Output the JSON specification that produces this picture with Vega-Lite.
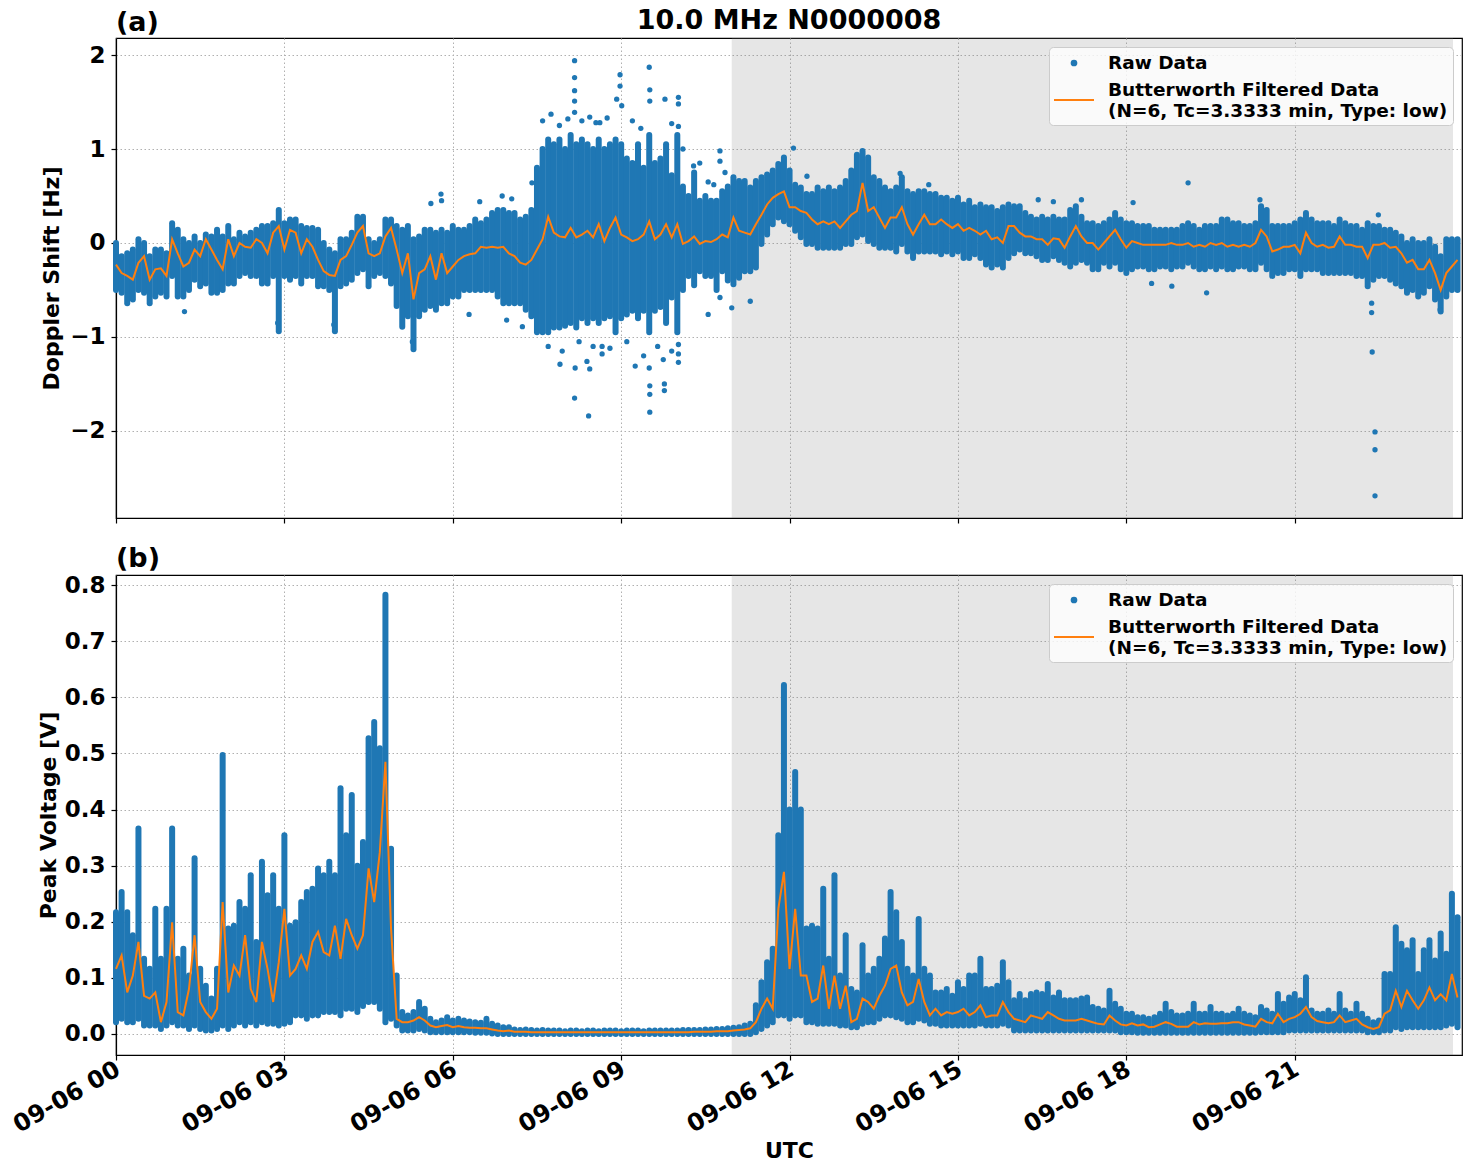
{
"$schema": "https://vega.github.io/schema/vega-lite/v6.json",
"padding": {"left": 8, "top": 7, "right": 5, "bottom": 5},
"title": {"text": "10.0 MHz N0000008", "anchor": "middle", "frame": "group", "fontSize": 27, "fontWeight": "bold", "font": "DejaVu Sans", "color": "#000000", "offset": -27},
"config": {
 "font": "DejaVu Sans",
 "view": {"stroke": "#000000", "strokeWidth": 1.2},
 "axis": {"labelFont": "DejaVu Sans", "labelFontSize": 23, "labelFontWeight": "bold", "labelColor": "#000000", "titleFont": "DejaVu Sans", "titleFontSize": 22, "titleFontWeight": "bold", "titleColor": "#000000", "domainColor": "#000000", "domainWidth": 1.2, "tickColor": "#000000", "tickSize": 5, "tickWidth": 1.2, "labelPadding": 6, "gridColor": "#b0b0b0", "gridDash": [1.5, 2.5], "gridWidth": 1, "grid": true},
 "title": {"font": "DejaVu Sans", "fontWeight": "bold", "fontSize": 27, "color": "#000000"},
 "legend": {"orient": "top-right", "offset": 9, "labelFont": "DejaVu Sans", "labelFontSize": 18.5, "labelFontWeight": "bold", "labelColor": "#000000", "labelLimit": 0,
   "symbolType": "M-2,0H2", "symbolSize": 400, "symbolStrokeWidth": 2, "symbolOffset": 9, "labelOffset": 23, "fillColor": "rgba(255,255,255,0.8)", "strokeColor": "#cccccc", "cornerRadius": 4, "padding": 5, "rowPadding": 8}
},
"datasets": {
 "shade": [{"s": 10.97, "e": 23.82}],
 "op": [
  {"t":1.22,"y":-0.73},{"t":2.88,"y":-0.85},{"t":3.88,"y":-0.87},{"t":5.28,"y":-1.05},{"t":5.61,"y":0.42},{"t":5.79,"y":0.52},{"t":5.8,"y":0.45},{"t":6.29,"y":-0.76},{"t":6.48,"y":0.44},{"t":6.88,"y":0.5},{"t":7.05,"y":0.47},{"t":6.96,"y":-0.82},{"t":7.24,"y":-0.89},{"t":7.41,"y":0.64},
  {"t":8.17,"y":1.94},{"t":8.17,"y":1.76},{"t":8.17,"y":1.62},{"t":8.17,"y":1.51},{"t":8.17,"y":1.39},{"t":8.98,"y":1.79},{"t":8.98,"y":1.67},{"t":9.5,"y":1.87},{"t":9.51,"y":1.63},{"t":9.51,"y":1.51},{"t":9.78,"y":1.53},{"t":10.02,"y":1.55},{"t":10.02,"y":1.48},{"t":8.92,"y":1.53},{"t":9.01,"y":1.46},{"t":8.44,"y":1.34},{"t":8.62,"y":1.28},{"t":10.02,"y":1.24},{"t":10.76,"y":0.98},{"t":10.76,"y":0.87},{"t":10.29,"y":0.82},
  {"t":7.6,"y":1.3},{"t":7.75,"y":1.37},{"t":7.9,"y":1.25},{"t":8.05,"y":1.32},{"t":8.3,"y":1.3},{"t":8.55,"y":1.28},{"t":8.75,"y":1.33},{"t":9.2,"y":1.3},{"t":9.35,"y":1.22},{"t":9.9,"y":1.27},{"t":10.1,"y":1.0},
  {"t":7.7,"y":-1.1},{"t":7.95,"y":-1.15},{"t":8.25,"y":-1.05},{"t":8.5,"y":-1.1},{"t":8.8,"y":-1.12},{"t":9.1,"y":-1.05},{"t":9.4,"y":-1.2},{"t":9.65,"y":-1.1},{"t":9.9,"y":-1.15},
  {"t":8.17,"y":-1.65},{"t":8.42,"y":-1.84},{"t":9.51,"y":-1.8},{"t":9.51,"y":-1.52},{"t":9.51,"y":-1.61},{"t":9.77,"y":-1.5},{"t":9.77,"y":-1.57},{"t":10.02,"y":-1.18},{"t":10.02,"y":-1.27},{"t":10.02,"y":-1.08},{"t":9.25,"y":-1.31},{"t":8.66,"y":-1.18},{"t":8.66,"y":-1.1},{"t":8.44,"y":-1.34},{"t":8.39,"y":-1.26},{"t":8.18,"y":-1.33},{"t":7.91,"y":-1.29},{"t":9.5,"y":-1.33},{"t":9.75,"y":-1.24},{"t":10.55,"y":-0.76},{"t":10.97,"y":-0.69},{"t":10.76,"y":-0.58},{"t":11.3,"y":-0.62},
  {"t":10.4,"y":0.85},{"t":10.55,"y":0.65},{"t":10.65,"y":0.62},{"t":10.85,"y":0.75},
  {"t":12.07,"y":1.01},{"t":13.97,"y":0.74},{"t":14.48,"y":0.62},{"t":12.31,"y":0.71},
  {"t":19.1,"y":0.64},{"t":22.38,"y":-1.16},{"t":22.43,"y":-2.01},{"t":22.43,"y":-2.2},{"t":22.43,"y":-2.69},{"t":16.43,"y":0.46},{"t":16.7,"y":0.44},{"t":17.2,"y":0.46},{"t":18.12,"y":0.43},{"t":19.43,"y":-0.53},{"t":18.81,"y":-0.46},{"t":18.45,"y":-0.43},{"t":22.37,"y":-0.74},{"t":22.37,"y":-0.64},{"t":20.38,"y":0.46},{"t":22.49,"y":0.3},{"t":23.59,"y":-0.71}
 ],
 "d": [
{"t":0.0,"dl":-0.50,"dh":0.00,"df":-0.23,"vl":0.021,"vh":0.217,"vf":0.116},
{"t":0.1,"dl":-0.53,"dh":-0.14,"df":-0.32,"vl":0.027,"vh":0.253,"vf":0.140},
{"t":0.2,"dl":-0.64,"dh":-0.11,"df":-0.35,"vl":0.021,"vh":0.217,"vf":0.074},
{"t":0.3,"dl":-0.60,"dh":-0.07,"df":-0.39,"vl":0.021,"vh":0.176,"vf":0.104},
{"t":0.4,"dl":-0.50,"dh":0.04,"df":-0.21,"vl":0.027,"vh":0.366,"vf":0.164},
{"t":0.5,"dl":-0.53,"dh":0.00,"df":-0.14,"vl":0.015,"vh":0.134,"vf":0.068},
{"t":0.6,"dl":-0.64,"dh":-0.14,"df":-0.39,"vl":0.015,"vh":0.116,"vf":0.063},
{"t":0.7,"dl":-0.57,"dh":-0.07,"df":-0.28,"vl":0.015,"vh":0.223,"vf":0.074},
{"t":0.8,"dl":-0.53,"dh":-0.07,"df":-0.27,"vl":0.009,"vh":0.134,"vf":0.021},
{"t":0.9,"dl":-0.57,"dh":-0.11,"df":-0.35,"vl":0.015,"vh":0.223,"vf":0.057},
{"t":1.0,"dl":-0.35,"dh":0.21,"df":0.04,"vl":0.021,"vh":0.366,"vf":0.199},
{"t":1.1,"dl":-0.57,"dh":0.14,"df":-0.11,"vl":0.015,"vh":0.134,"vf":0.039},
{"t":1.2,"dl":-0.57,"dh":0.04,"df":-0.25,"vl":0.015,"vh":0.152,"vf":0.033},
{"t":1.3,"dl":-0.50,"dh":0.00,"df":-0.21,"vl":0.009,"vh":0.104,"vf":0.080},
{"t":1.4,"dl":-0.39,"dh":0.07,"df":-0.07,"vl":0.015,"vh":0.313,"vf":0.176},
{"t":1.5,"dl":-0.46,"dh":0.00,"df":-0.14,"vl":0.009,"vh":0.116,"vf":0.057},
{"t":1.6,"dl":-0.43,"dh":0.09,"df":0.04,"vl":0.006,"vh":0.086,"vf":0.039},
{"t":1.7,"dl":-0.53,"dh":0.07,"df":-0.07,"vl":0.006,"vh":0.063,"vf":0.027},
{"t":1.8,"dl":-0.53,"dh":0.14,"df":-0.18,"vl":0.009,"vh":0.116,"vf":0.045},
{"t":1.9,"dl":-0.50,"dh":0.07,"df":-0.28,"vl":0.015,"vh":0.497,"vf":0.235},
{"t":2.0,"dl":-0.43,"dh":0.18,"df":0.04,"vl":0.009,"vh":0.188,"vf":0.074},
{"t":2.1,"dl":-0.43,"dh":0.04,"df":-0.14,"vl":0.015,"vh":0.193,"vf":0.122},
{"t":2.2,"dl":-0.35,"dh":0.11,"df":0.00,"vl":0.021,"vh":0.235,"vf":0.104},
{"t":2.3,"dl":-0.32,"dh":0.07,"df":-0.04,"vl":0.015,"vh":0.223,"vf":0.176},
{"t":2.4,"dl":-0.35,"dh":0.11,"df":-0.05,"vl":0.021,"vh":0.283,"vf":0.080},
{"t":2.5,"dl":-0.35,"dh":0.14,"df":0.04,"vl":0.015,"vh":0.164,"vf":0.057},
{"t":2.6,"dl":-0.43,"dh":0.18,"df":0.00,"vl":0.021,"vh":0.307,"vf":0.164},
{"t":2.7,"dl":-0.43,"dh":0.18,"df":-0.11,"vl":0.018,"vh":0.247,"vf":0.116},
{"t":2.8,"dl":-0.35,"dh":0.21,"df":0.11,"vl":0.018,"vh":0.283,"vf":0.057},
{"t":2.9,"dl":-0.94,"dh":0.35,"df":0.18,"vl":0.015,"vh":0.223,"vf":0.128},
{"t":3.0,"dl":-0.35,"dh":0.21,"df":-0.07,"vl":0.018,"vh":0.354,"vf":0.223},
{"t":3.1,"dl":-0.39,"dh":0.25,"df":0.14,"vl":0.021,"vh":0.193,"vf":0.104},
{"t":3.2,"dl":-0.35,"dh":0.25,"df":0.11,"vl":0.033,"vh":0.199,"vf":0.116},
{"t":3.3,"dl":-0.43,"dh":0.18,"df":-0.11,"vl":0.033,"vh":0.235,"vf":0.140},
{"t":3.4,"dl":-0.35,"dh":0.16,"df":0.04,"vl":0.027,"vh":0.253,"vf":0.116},
{"t":3.5,"dl":-0.35,"dh":0.16,"df":-0.04,"vl":0.033,"vh":0.259,"vf":0.164},
{"t":3.6,"dl":-0.46,"dh":0.14,"df":-0.18,"vl":0.033,"vh":0.295,"vf":0.182},
{"t":3.7,"dl":-0.46,"dh":0.00,"df":-0.30,"vl":0.039,"vh":0.283,"vf":0.146},
{"t":3.8,"dl":-0.50,"dh":-0.07,"df":-0.34,"vl":0.039,"vh":0.307,"vf":0.140},
{"t":3.9,"dl":-0.94,"dh":-0.11,"df":-0.35,"vl":0.039,"vh":0.283,"vf":0.193},
{"t":4.0,"dl":-0.46,"dh":0.04,"df":-0.18,"vl":0.033,"vh":0.438,"vf":0.134},
{"t":4.1,"dl":-0.43,"dh":0.04,"df":-0.14,"vl":0.045,"vh":0.354,"vf":0.205},
{"t":4.2,"dl":-0.39,"dh":0.11,"df":-0.02,"vl":0.045,"vh":0.426,"vf":0.176},
{"t":4.3,"dl":-0.32,"dh":0.28,"df":0.11,"vl":0.039,"vh":0.300,"vf":0.152},
{"t":4.4,"dl":-0.28,"dh":0.28,"df":0.18,"vl":0.050,"vh":0.342,"vf":0.176},
{"t":4.5,"dl":-0.46,"dh":0.04,"df":-0.11,"vl":0.057,"vh":0.527,"vf":0.295},
{"t":4.6,"dl":-0.35,"dh":0.00,"df":-0.14,"vl":0.057,"vh":0.556,"vf":0.235},
{"t":4.7,"dl":-0.32,"dh":0.04,"df":-0.11,"vl":0.045,"vh":0.509,"vf":0.324},
{"t":4.8,"dl":-0.35,"dh":0.25,"df":0.07,"vl":0.021,"vh":0.783,"vf":0.485},
{"t":4.9,"dl":-0.43,"dh":0.25,"df":0.16,"vl":0.027,"vh":0.330,"vf":0.188},
{"t":5.0,"dl":-0.67,"dh":0.18,"df":-0.07,"vl":0.015,"vh":0.104,"vf":0.027},
{"t":5.1,"dl":-0.89,"dh":0.14,"df":-0.32,"vl":0.006,"vh":0.039,"vf":0.021},
{"t":5.2,"dl":-0.78,"dh":0.18,"df":-0.11,"vl":0.006,"vh":0.033,"vf":0.021},
{"t":5.3,"dl":-1.13,"dh":0.04,"df":-0.60,"vl":0.006,"vh":0.039,"vf":0.024},
{"t":5.4,"dl":-0.78,"dh":0.07,"df":-0.32,"vl":0.009,"vh":0.057,"vf":0.030},
{"t":5.5,"dl":-0.71,"dh":0.14,"df":-0.28,"vl":0.006,"vh":0.045,"vf":0.024},
{"t":5.6,"dl":-0.67,"dh":0.14,"df":-0.14,"vl":0.003,"vh":0.027,"vf":0.015},
{"t":5.7,"dl":-0.71,"dh":0.11,"df":-0.39,"vl":0.003,"vh":0.021,"vf":0.012},
{"t":5.8,"dl":-0.64,"dh":0.14,"df":-0.11,"vl":0.003,"vh":0.024,"vf":0.014},
{"t":5.9,"dl":-0.64,"dh":0.11,"df":-0.32,"vl":0.003,"vh":0.030,"vf":0.016},
{"t":6.0,"dl":-0.57,"dh":0.18,"df":-0.25,"vl":0.003,"vh":0.024,"vf":0.012},
{"t":6.1,"dl":-0.57,"dh":0.14,"df":-0.18,"vl":0.003,"vh":0.027,"vf":0.014},
{"t":6.2,"dl":-0.50,"dh":0.14,"df":-0.14,"vl":0.003,"vh":0.024,"vf":0.012},
{"t":6.3,"dl":-0.50,"dh":0.18,"df":-0.12,"vl":0.003,"vh":0.022,"vf":0.011},
{"t":6.4,"dl":-0.50,"dh":0.25,"df":-0.11,"vl":0.002,"vh":0.021,"vf":0.011},
{"t":6.5,"dl":-0.50,"dh":0.21,"df":-0.04,"vl":0.002,"vh":0.020,"vf":0.010},
{"t":6.6,"dl":-0.50,"dh":0.25,"df":-0.05,"vl":0.002,"vh":0.027,"vf":0.010},
{"t":6.7,"dl":-0.50,"dh":0.32,"df":-0.04,"vl":0.001,"vh":0.018,"vf":0.008},
{"t":6.8,"dl":-0.57,"dh":0.35,"df":-0.05,"vl":0.000,"vh":0.015,"vf":0.006},
{"t":6.9,"dl":-0.64,"dh":0.35,"df":-0.04,"vl":0.000,"vh":0.012,"vf":0.005},
{"t":7.0,"dl":-0.64,"dh":0.32,"df":-0.11,"vl":0.000,"vh":0.012,"vf":0.006},
{"t":7.1,"dl":-0.64,"dh":0.32,"df":-0.14,"vl":0.000,"vh":0.008,"vf":0.004},
{"t":7.2,"dl":-0.64,"dh":0.25,"df":-0.21,"vl":0.000,"vh":0.007,"vf":0.004},
{"t":7.3,"dl":-0.71,"dh":0.28,"df":-0.23,"vl":0.000,"vh":0.008,"vf":0.004},
{"t":7.4,"dl":-0.78,"dh":0.35,"df":-0.18,"vl":0.000,"vh":0.007,"vf":0.003},
{"t":7.5,"dl":-0.95,"dh":0.80,"df":-0.07,"vl":0.000,"vh":0.006,"vf":0.003},
{"t":7.6,"dl":-0.95,"dh":1.00,"df":0.04,"vl":0.000,"vh":0.007,"vf":0.003},
{"t":7.7,"dl":-0.95,"dh":1.10,"df":0.28,"vl":0.000,"vh":0.006,"vf":0.003},
{"t":7.8,"dl":-0.90,"dh":1.05,"df":0.11,"vl":0.000,"vh":0.006,"vf":0.003},
{"t":7.9,"dl":-0.90,"dh":1.10,"df":0.07,"vl":0.000,"vh":0.006,"vf":0.003},
{"t":8.0,"dl":-0.88,"dh":1.00,"df":0.06,"vl":0.000,"vh":0.005,"vf":0.003},
{"t":8.1,"dl":-0.85,"dh":1.15,"df":0.16,"vl":0.000,"vh":0.006,"vf":0.003},
{"t":8.2,"dl":-0.90,"dh":1.05,"df":0.06,"vl":0.000,"vh":0.006,"vf":0.003},
{"t":8.3,"dl":-0.80,"dh":1.10,"df":0.09,"vl":0.000,"vh":0.005,"vf":0.003},
{"t":8.4,"dl":-0.85,"dh":1.05,"df":0.13,"vl":0.000,"vh":0.006,"vf":0.003},
{"t":8.5,"dl":-0.80,"dh":1.00,"df":0.06,"vl":0.000,"vh":0.006,"vf":0.003},
{"t":8.6,"dl":-0.85,"dh":1.10,"df":0.20,"vl":0.000,"vh":0.005,"vf":0.003},
{"t":8.7,"dl":-0.80,"dh":1.00,"df":0.02,"vl":0.000,"vh":0.006,"vf":0.003},
{"t":8.8,"dl":-0.78,"dh":1.05,"df":0.16,"vl":0.000,"vh":0.006,"vf":0.003},
{"t":8.9,"dl":-0.95,"dh":1.10,"df":0.27,"vl":0.000,"vh":0.006,"vf":0.003},
{"t":9.0,"dl":-0.80,"dh":1.05,"df":0.09,"vl":0.000,"vh":0.005,"vf":0.003},
{"t":9.1,"dl":-0.76,"dh":0.90,"df":0.06,"vl":0.000,"vh":0.006,"vf":0.003},
{"t":9.2,"dl":-0.72,"dh":0.85,"df":0.02,"vl":0.000,"vh":0.006,"vf":0.003},
{"t":9.3,"dl":-0.80,"dh":1.05,"df":0.04,"vl":0.000,"vh":0.006,"vf":0.003},
{"t":9.4,"dl":-0.72,"dh":0.80,"df":0.09,"vl":0.000,"vh":0.005,"vf":0.003},
{"t":9.5,"dl":-0.95,"dh":1.15,"df":0.23,"vl":0.000,"vh":0.006,"vf":0.003},
{"t":9.6,"dl":-0.72,"dh":0.85,"df":0.04,"vl":0.000,"vh":0.006,"vf":0.003},
{"t":9.7,"dl":-0.68,"dh":0.90,"df":0.09,"vl":0.000,"vh":0.006,"vf":0.003},
{"t":9.8,"dl":-0.85,"dh":1.05,"df":0.20,"vl":0.000,"vh":0.006,"vf":0.003},
{"t":9.9,"dl":-0.58,"dh":0.72,"df":0.06,"vl":0.000,"vh":0.006,"vf":0.003},
{"t":10.0,"dl":-0.95,"dh":1.15,"df":0.20,"vl":0.000,"vh":0.006,"vf":0.003},
{"t":10.1,"dl":-0.50,"dh":0.60,"df":-0.01,"vl":0.000,"vh":0.007,"vf":0.003},
{"t":10.2,"dl":-0.35,"dh":0.50,"df":0.02,"vl":0.000,"vh":0.007,"vf":0.003},
{"t":10.3,"dl":-0.45,"dh":0.75,"df":0.07,"vl":0.000,"vh":0.007,"vf":0.004},
{"t":10.4,"dl":-0.30,"dh":0.45,"df":-0.01,"vl":0.000,"vh":0.007,"vf":0.004},
{"t":10.5,"dl":-0.35,"dh":0.50,"df":0.02,"vl":0.000,"vh":0.008,"vf":0.004},
{"t":10.6,"dl":-0.35,"dh":0.45,"df":0.01,"vl":0.000,"vh":0.008,"vf":0.004},
{"t":10.7,"dl":-0.50,"dh":0.45,"df":0.04,"vl":0.000,"vh":0.009,"vf":0.005},
{"t":10.8,"dl":-0.30,"dh":0.55,"df":0.09,"vl":0.000,"vh":0.009,"vf":0.005},
{"t":10.9,"dl":-0.40,"dh":0.60,"df":0.06,"vl":0.000,"vh":0.010,"vf":0.005},
{"t":11.0,"dl":-0.44,"dh":0.70,"df":0.27,"vl":0.000,"vh":0.011,"vf":0.006},
{"t":11.1,"dl":-0.37,"dh":0.66,"df":0.13,"vl":0.000,"vh":0.012,"vf":0.007},
{"t":11.2,"dl":-0.30,"dh":0.66,"df":0.11,"vl":0.000,"vh":0.015,"vf":0.008},
{"t":11.3,"dl":-0.30,"dh":0.59,"df":0.09,"vl":0.000,"vh":0.018,"vf":0.010},
{"t":11.4,"dl":-0.26,"dh":0.66,"df":0.20,"vl":0.003,"vh":0.051,"vf":0.021},
{"t":11.5,"dl":-0.01,"dh":0.70,"df":0.30,"vl":0.009,"vh":0.092,"vf":0.045},
{"t":11.6,"dl":0.09,"dh":0.73,"df":0.41,"vl":0.015,"vh":0.128,"vf":0.063},
{"t":11.7,"dl":0.20,"dh":0.77,"df":0.48,"vl":0.021,"vh":0.152,"vf":0.045},
{"t":11.8,"dl":0.27,"dh":0.84,"df":0.52,"vl":0.033,"vh":0.354,"vf":0.223},
{"t":11.9,"dl":0.23,"dh":0.91,"df":0.55,"vl":0.033,"vh":0.622,"vf":0.289},
{"t":12.0,"dl":0.20,"dh":0.77,"df":0.38,"vl":0.027,"vh":0.400,"vf":0.116},
{"t":12.1,"dl":0.13,"dh":0.62,"df":0.38,"vl":0.033,"vh":0.467,"vf":0.223},
{"t":12.2,"dl":0.06,"dh":0.59,"df":0.34,"vl":0.033,"vh":0.400,"vf":0.104},
{"t":12.3,"dl":-0.01,"dh":0.52,"df":0.32,"vl":0.021,"vh":0.188,"vf":0.104},
{"t":12.4,"dl":-0.01,"dh":0.52,"df":0.25,"vl":0.021,"vh":0.193,"vf":0.057},
{"t":12.5,"dl":-0.05,"dh":0.59,"df":0.20,"vl":0.018,"vh":0.188,"vf":0.063},
{"t":12.6,"dl":-0.05,"dh":0.55,"df":0.23,"vl":0.018,"vh":0.259,"vf":0.122},
{"t":12.7,"dl":-0.05,"dh":0.59,"df":0.20,"vl":0.018,"vh":0.134,"vf":0.045},
{"t":12.8,"dl":-0.05,"dh":0.55,"df":0.23,"vl":0.018,"vh":0.283,"vf":0.104},
{"t":12.9,"dl":-0.05,"dh":0.59,"df":0.16,"vl":0.015,"vh":0.104,"vf":0.045},
{"t":13.0,"dl":-0.01,"dh":0.66,"df":0.23,"vl":0.015,"vh":0.176,"vf":0.086},
{"t":13.1,"dl":-0.01,"dh":0.77,"df":0.30,"vl":0.012,"vh":0.080,"vf":0.021},
{"t":13.2,"dl":0.06,"dh":0.94,"df":0.34,"vl":0.012,"vh":0.074,"vf":0.027},
{"t":13.3,"dl":0.09,"dh":0.98,"df":0.64,"vl":0.018,"vh":0.158,"vf":0.063},
{"t":13.4,"dl":0.02,"dh":0.91,"df":0.34,"vl":0.021,"vh":0.104,"vf":0.057},
{"t":13.5,"dl":-0.01,"dh":0.70,"df":0.38,"vl":0.021,"vh":0.116,"vf":0.045},
{"t":13.6,"dl":-0.05,"dh":0.66,"df":0.27,"vl":0.027,"vh":0.134,"vf":0.068},
{"t":13.7,"dl":-0.05,"dh":0.59,"df":0.16,"vl":0.033,"vh":0.170,"vf":0.086},
{"t":13.8,"dl":-0.05,"dh":0.55,"df":0.27,"vl":0.033,"vh":0.253,"vf":0.116},
{"t":13.9,"dl":-0.09,"dh":0.59,"df":0.27,"vl":0.030,"vh":0.217,"vf":0.122},
{"t":14.0,"dl":-0.01,"dh":0.70,"df":0.38,"vl":0.027,"vh":0.164,"vf":0.074},
{"t":14.1,"dl":-0.09,"dh":0.55,"df":0.20,"vl":0.021,"vh":0.116,"vf":0.051},
{"t":14.2,"dl":-0.16,"dh":0.52,"df":0.09,"vl":0.021,"vh":0.104,"vf":0.057},
{"t":14.3,"dl":-0.09,"dh":0.55,"df":0.20,"vl":0.027,"vh":0.205,"vf":0.098},
{"t":14.4,"dl":-0.09,"dh":0.55,"df":0.30,"vl":0.024,"vh":0.116,"vf":0.057},
{"t":14.5,"dl":-0.09,"dh":0.52,"df":0.20,"vl":0.018,"vh":0.104,"vf":0.033},
{"t":14.6,"dl":-0.09,"dh":0.52,"df":0.20,"vl":0.018,"vh":0.074,"vf":0.045},
{"t":14.7,"dl":-0.12,"dh":0.48,"df":0.25,"vl":0.015,"vh":0.074,"vf":0.033},
{"t":14.8,"dl":-0.09,"dh":0.48,"df":0.20,"vl":0.015,"vh":0.080,"vf":0.039},
{"t":14.9,"dl":-0.12,"dh":0.45,"df":0.16,"vl":0.015,"vh":0.068,"vf":0.036},
{"t":15.0,"dl":-0.09,"dh":0.48,"df":0.20,"vl":0.015,"vh":0.092,"vf":0.039},
{"t":15.1,"dl":-0.16,"dh":0.41,"df":0.13,"vl":0.015,"vh":0.080,"vf":0.045},
{"t":15.2,"dl":-0.16,"dh":0.45,"df":0.16,"vl":0.015,"vh":0.104,"vf":0.033},
{"t":15.3,"dl":-0.12,"dh":0.38,"df":0.13,"vl":0.015,"vh":0.104,"vf":0.039},
{"t":15.4,"dl":-0.16,"dh":0.41,"df":0.09,"vl":0.018,"vh":0.134,"vf":0.051},
{"t":15.5,"dl":-0.23,"dh":0.38,"df":0.13,"vl":0.015,"vh":0.080,"vf":0.030},
{"t":15.6,"dl":-0.26,"dh":0.38,"df":0.04,"vl":0.015,"vh":0.080,"vf":0.033},
{"t":15.7,"dl":-0.23,"dh":0.34,"df":0.06,"vl":0.015,"vh":0.086,"vf":0.033},
{"t":15.8,"dl":-0.26,"dh":0.38,"df":0.00,"vl":0.018,"vh":0.128,"vf":0.057},
{"t":15.9,"dl":-0.16,"dh":0.41,"df":0.18,"vl":0.015,"vh":0.092,"vf":0.039},
{"t":16.0,"dl":-0.11,"dh":0.39,"df":0.18,"vl":0.006,"vh":0.060,"vf":0.027},
{"t":16.1,"dl":-0.07,"dh":0.39,"df":0.11,"vl":0.006,"vh":0.071,"vf":0.024},
{"t":16.2,"dl":-0.11,"dh":0.32,"df":0.07,"vl":0.006,"vh":0.060,"vf":0.021},
{"t":16.3,"dl":-0.11,"dh":0.28,"df":0.07,"vl":0.006,"vh":0.071,"vf":0.033},
{"t":16.4,"dl":-0.14,"dh":0.25,"df":0.04,"vl":0.006,"vh":0.074,"vf":0.030},
{"t":16.5,"dl":-0.18,"dh":0.28,"df":0.04,"vl":0.006,"vh":0.071,"vf":0.027},
{"t":16.6,"dl":-0.18,"dh":0.25,"df":-0.02,"vl":0.006,"vh":0.089,"vf":0.039},
{"t":16.7,"dl":-0.14,"dh":0.28,"df":0.05,"vl":0.006,"vh":0.065,"vf":0.033},
{"t":16.8,"dl":-0.18,"dh":0.25,"df":0.04,"vl":0.006,"vh":0.074,"vf":0.027},
{"t":16.9,"dl":-0.21,"dh":0.25,"df":-0.05,"vl":0.006,"vh":0.060,"vf":0.024},
{"t":17.0,"dl":-0.25,"dh":0.35,"df":0.07,"vl":0.006,"vh":0.060,"vf":0.024},
{"t":17.1,"dl":-0.21,"dh":0.39,"df":0.18,"vl":0.006,"vh":0.060,"vf":0.024},
{"t":17.2,"dl":-0.18,"dh":0.28,"df":0.07,"vl":0.006,"vh":0.063,"vf":0.027},
{"t":17.3,"dl":-0.21,"dh":0.21,"df":0.00,"vl":0.006,"vh":0.065,"vf":0.024},
{"t":17.4,"dl":-0.28,"dh":0.21,"df":0.00,"vl":0.006,"vh":0.048,"vf":0.021},
{"t":17.5,"dl":-0.28,"dh":0.18,"df":-0.07,"vl":0.006,"vh":0.045,"vf":0.018},
{"t":17.6,"dl":-0.21,"dh":0.21,"df":0.00,"vl":0.006,"vh":0.042,"vf":0.017},
{"t":17.7,"dl":-0.25,"dh":0.25,"df":0.07,"vl":0.006,"vh":0.077,"vf":0.033},
{"t":17.8,"dl":-0.21,"dh":0.32,"df":0.14,"vl":0.006,"vh":0.054,"vf":0.024},
{"t":17.9,"dl":-0.28,"dh":0.25,"df":0.04,"vl":0.003,"vh":0.045,"vf":0.017},
{"t":18.0,"dl":-0.32,"dh":0.21,"df":-0.05,"vl":0.003,"vh":0.036,"vf":0.015},
{"t":18.1,"dl":-0.28,"dh":0.21,"df":0.02,"vl":0.003,"vh":0.036,"vf":0.019},
{"t":18.2,"dl":-0.25,"dh":0.18,"df":0.00,"vl":0.002,"vh":0.030,"vf":0.015},
{"t":18.3,"dl":-0.25,"dh":0.18,"df":-0.02,"vl":0.002,"vh":0.030,"vf":0.017},
{"t":18.4,"dl":-0.28,"dh":0.18,"df":-0.02,"vl":0.002,"vh":0.027,"vf":0.012},
{"t":18.5,"dl":-0.28,"dh":0.14,"df":-0.02,"vl":0.002,"vh":0.030,"vf":0.013},
{"t":18.6,"dl":-0.25,"dh":0.14,"df":-0.02,"vl":0.002,"vh":0.036,"vf":0.017},
{"t":18.7,"dl":-0.25,"dh":0.14,"df":-0.02,"vl":0.002,"vh":0.054,"vf":0.021},
{"t":18.8,"dl":-0.28,"dh":0.14,"df":0.00,"vl":0.002,"vh":0.039,"vf":0.018},
{"t":18.9,"dl":-0.25,"dh":0.14,"df":-0.02,"vl":0.002,"vh":0.033,"vf":0.013},
{"t":19.0,"dl":-0.25,"dh":0.18,"df":-0.02,"vl":0.002,"vh":0.033,"vf":0.013},
{"t":19.1,"dl":-0.21,"dh":0.21,"df":0.00,"vl":0.002,"vh":0.036,"vf":0.013},
{"t":19.2,"dl":-0.25,"dh":0.18,"df":-0.04,"vl":0.002,"vh":0.054,"vf":0.021},
{"t":19.3,"dl":-0.28,"dh":0.14,"df":-0.02,"vl":0.002,"vh":0.036,"vf":0.017},
{"t":19.4,"dl":-0.28,"dh":0.18,"df":-0.04,"vl":0.002,"vh":0.036,"vf":0.019},
{"t":19.5,"dl":-0.25,"dh":0.18,"df":0.00,"vl":0.002,"vh":0.048,"vf":0.018},
{"t":19.6,"dl":-0.28,"dh":0.18,"df":-0.02,"vl":0.002,"vh":0.036,"vf":0.018},
{"t":19.7,"dl":-0.25,"dh":0.25,"df":0.00,"vl":0.002,"vh":0.036,"vf":0.019},
{"t":19.8,"dl":-0.28,"dh":0.25,"df":-0.04,"vl":0.002,"vh":0.033,"vf":0.019},
{"t":19.9,"dl":-0.28,"dh":0.21,"df":-0.02,"vl":0.002,"vh":0.036,"vf":0.021},
{"t":20.0,"dl":-0.25,"dh":0.21,"df":-0.04,"vl":0.002,"vh":0.045,"vf":0.021},
{"t":20.1,"dl":-0.25,"dh":0.18,"df":-0.02,"vl":0.002,"vh":0.036,"vf":0.017},
{"t":20.2,"dl":-0.28,"dh":0.18,"df":-0.04,"vl":0.002,"vh":0.033,"vf":0.015},
{"t":20.3,"dl":-0.28,"dh":0.21,"df":0.00,"vl":0.002,"vh":0.030,"vf":0.013},
{"t":20.4,"dl":-0.21,"dh":0.39,"df":0.14,"vl":0.003,"vh":0.048,"vf":0.027},
{"t":20.5,"dl":-0.28,"dh":0.35,"df":0.07,"vl":0.003,"vh":0.042,"vf":0.021},
{"t":20.6,"dl":-0.35,"dh":0.18,"df":-0.09,"vl":0.003,"vh":0.036,"vf":0.019},
{"t":20.7,"dl":-0.32,"dh":0.18,"df":-0.07,"vl":0.003,"vh":0.071,"vf":0.036},
{"t":20.8,"dl":-0.32,"dh":0.18,"df":-0.04,"vl":0.003,"vh":0.054,"vf":0.021},
{"t":20.9,"dl":-0.28,"dh":0.18,"df":-0.04,"vl":0.006,"vh":0.065,"vf":0.027},
{"t":21.0,"dl":-0.28,"dh":0.21,"df":-0.02,"vl":0.006,"vh":0.071,"vf":0.030},
{"t":21.1,"dl":-0.35,"dh":0.25,"df":-0.11,"vl":0.006,"vh":0.060,"vf":0.036},
{"t":21.2,"dl":-0.28,"dh":0.32,"df":0.11,"vl":0.006,"vh":0.101,"vf":0.048},
{"t":21.3,"dl":-0.28,"dh":0.25,"df":0.00,"vl":0.006,"vh":0.042,"vf":0.030},
{"t":21.4,"dl":-0.28,"dh":0.21,"df":-0.04,"vl":0.006,"vh":0.036,"vf":0.023},
{"t":21.5,"dl":-0.32,"dh":0.21,"df":-0.02,"vl":0.006,"vh":0.036,"vf":0.021},
{"t":21.6,"dl":-0.32,"dh":0.21,"df":-0.05,"vl":0.006,"vh":0.042,"vf":0.019},
{"t":21.7,"dl":-0.32,"dh":0.18,"df":-0.04,"vl":0.006,"vh":0.036,"vf":0.021},
{"t":21.8,"dl":-0.32,"dh":0.25,"df":0.07,"vl":0.006,"vh":0.071,"vf":0.033},
{"t":21.9,"dl":-0.32,"dh":0.21,"df":-0.02,"vl":0.006,"vh":0.042,"vf":0.021},
{"t":22.0,"dl":-0.32,"dh":0.18,"df":-0.02,"vl":0.006,"vh":0.036,"vf":0.024},
{"t":22.1,"dl":-0.35,"dh":0.18,"df":-0.04,"vl":0.006,"vh":0.054,"vf":0.027},
{"t":22.2,"dl":-0.35,"dh":0.14,"df":-0.04,"vl":0.006,"vh":0.036,"vf":0.017},
{"t":22.3,"dl":-0.46,"dh":0.21,"df":-0.16,"vl":0.003,"vh":0.027,"vf":0.012},
{"t":22.4,"dl":-0.39,"dh":0.18,"df":-0.02,"vl":0.003,"vh":0.021,"vf":0.009},
{"t":22.5,"dl":-0.35,"dh":0.18,"df":-0.02,"vl":0.003,"vh":0.024,"vf":0.012},
{"t":22.6,"dl":-0.35,"dh":0.14,"df":0.00,"vl":0.006,"vh":0.107,"vf":0.036},
{"t":22.7,"dl":-0.39,"dh":0.14,"df":-0.05,"vl":0.006,"vh":0.107,"vf":0.042},
{"t":22.8,"dl":-0.43,"dh":0.11,"df":-0.04,"vl":0.012,"vh":0.190,"vf":0.077},
{"t":22.9,"dl":-0.46,"dh":0.07,"df":-0.11,"vl":0.009,"vh":0.161,"vf":0.048},
{"t":23.0,"dl":-0.53,"dh":0.00,"df":-0.21,"vl":0.012,"vh":0.149,"vf":0.077},
{"t":23.1,"dl":-0.50,"dh":0.04,"df":-0.18,"vl":0.012,"vh":0.167,"vf":0.060},
{"t":23.2,"dl":-0.57,"dh":0.00,"df":-0.28,"vl":0.012,"vh":0.107,"vf":0.045},
{"t":23.3,"dl":-0.53,"dh":0.00,"df":-0.28,"vl":0.012,"vh":0.149,"vf":0.060},
{"t":23.4,"dl":-0.46,"dh":0.04,"df":-0.18,"vl":0.012,"vh":0.167,"vf":0.083},
{"t":23.5,"dl":-0.60,"dh":-0.04,"df":-0.32,"vl":0.012,"vh":0.131,"vf":0.060},
{"t":23.6,"dl":-0.73,"dh":-0.14,"df":-0.50,"vl":0.012,"vh":0.179,"vf":0.071},
{"t":23.7,"dl":-0.57,"dh":0.04,"df":-0.32,"vl":0.015,"vh":0.143,"vf":0.060},
{"t":23.8,"dl":-0.50,"dh":0.04,"df":-0.25,"vl":0.018,"vh":0.250,"vf":0.107},
{"t":23.9,"dl":-0.50,"dh":0.04,"df":-0.18,"vl":0.012,"vh":0.208,"vf":0.065}
 ]
},
"spacing": 57,
"bounds": "flush",
"resolve": {"scale": {"color": "independent"}, "legend": {"color": "independent"}},
"vconcat": [
 {
  "width": 1346, "height": 480,
  "title": {"text": "(a)", "anchor": "start", "frame": "group", "offset": 1},
  "layer": [
   {"data": {"name": "shade"}, "mark": {"type": "rect", "fill": "#808080", "opacity": 0.2},
    "encoding": {"x": {"field": "s", "type": "quantitative", "scale": {"domain": [0, 23.98], "nice": false, "zero": false},
       "axis": {"values": [0,3,6,9,12,15,18,21], "labels": false, "title": null, "grid": true}},
     "x2": {"field": "e"}}},
   {"data": {"name": "d"}, "mark": {"type": "rule", "strokeWidth": 6, "strokeCap": "round"},
    "encoding": {"x": {"field": "t", "type": "quantitative"},
     "y": {"field": "dl", "type": "quantitative", "scale": {"domain": [-2.926, 2.181], "nice": false, "zero": false},
       "axis": {"values": [-2,-1,0,1,2], "format": "d", "title": "Doppler Shift [Hz]", "titlePadding": 6, "grid": true}},
     "y2": {"field": "dh"},
     "color": {"datum": "Raw Data", "scale": {"domain": ["Raw Data", "Butterworth Filtered Data"], "range": ["#1f77b4", "#ff7f0e"]},
      "legend": {"title": null,
       "labelExpr": "datum.value == 'Raw Data' ? 'Raw Data' : ['Butterworth Filtered Data', '(N=6, Tc=3.3333 min, Type: low)']",
       "encode": {"symbols": {"update": {
         "shape": {"signal": "datum.value == 'Raw Data' ? 'circle' : 'M-2,0H2'"},
         "size": {"signal": "datum.value == 'Raw Data' ? 22 : 400"},
         "fill": {"signal": "datum.value == 'Raw Data' ? '#1f77b4' : 'transparent'"},
         "stroke": {"signal": "datum.value == 'Raw Data' ? 'transparent' : '#ff7f0e'"},
         "opacity": {"value": 1}, "fillOpacity": {"value": 1}, "strokeOpacity": {"value": 1}}},
        "labels": {"update": {"dy": {"signal": "datum.value == 'Raw Data' ? 0 : -10"}}}}}}}},
   {"data": {"name": "op"}, "mark": {"type": "circle", "size": 28, "opacity": 1},
    "encoding": {"x": {"field": "t", "type": "quantitative"}, "y": {"field": "y", "type": "quantitative"}, "color": {"datum": "Raw Data"}}},
   {"data": {"name": "d"}, "mark": {"type": "line", "strokeWidth": 2},
    "encoding": {"x": {"field": "t", "type": "quantitative"}, "y": {"field": "df", "type": "quantitative"}, "color": {"datum": "Butterworth Filtered Data"}}}
  ]
 },
 {
  "width": 1346, "height": 480,
  "title": {"text": "(b)", "anchor": "start", "frame": "group", "offset": 1},
  "layer": [
   {"data": {"name": "shade"}, "mark": {"type": "rect", "fill": "#808080", "opacity": 0.2},
    "encoding": {"x": {"field": "s", "type": "quantitative", "scale": {"domain": [0, 23.98], "nice": false, "zero": false},
       "axis": {"values": [0,3,6,9,12,15,18,21], "title": "UTC", "titlePadding": 3, "grid": true, "labelAngle": -30, "labelAlign": "right", "labelBaseline": "top", "labelFontSize": 24, "labelPadding": -3, "labelOffset": -4,
        "labelExpr": "'09-06 ' + (datum.value < 10 ? '0' : '') + datum.value"}},
     "x2": {"field": "e"}}},
   {"data": {"name": "d"}, "mark": {"type": "rule", "strokeWidth": 6, "strokeCap": "round"},
    "encoding": {"x": {"field": "t", "type": "quantitative"},
     "y": {"field": "vl", "type": "quantitative", "scale": {"domain": [-0.0375, 0.818], "nice": false, "zero": false},
       "axis": {"values": [0,0.1,0.2,0.3,0.4,0.5,0.6,0.7,0.8], "format": ".1f", "title": "Peak Voltage [V]", "titlePadding": 4, "grid": true}},
     "y2": {"field": "vh"},
     "color": {"datum": "Raw Data", "scale": {"domain": ["Raw Data", "Butterworth Filtered Data"], "range": ["#1f77b4", "#ff7f0e"]},
      "legend": {"title": null,
       "labelExpr": "datum.value == 'Raw Data' ? 'Raw Data' : ['Butterworth Filtered Data', '(N=6, Tc=3.3333 min, Type: low)']",
       "encode": {"symbols": {"update": {
         "shape": {"signal": "datum.value == 'Raw Data' ? 'circle' : 'M-2,0H2'"},
         "size": {"signal": "datum.value == 'Raw Data' ? 22 : 400"},
         "fill": {"signal": "datum.value == 'Raw Data' ? '#1f77b4' : 'transparent'"},
         "stroke": {"signal": "datum.value == 'Raw Data' ? 'transparent' : '#ff7f0e'"},
         "opacity": {"value": 1}, "fillOpacity": {"value": 1}, "strokeOpacity": {"value": 1}}},
        "labels": {"update": {"dy": {"signal": "datum.value == 'Raw Data' ? 0 : -10"}}}}}}}},
   {"data": {"name": "d"}, "mark": {"type": "line", "strokeWidth": 2},
    "encoding": {"x": {"field": "t", "type": "quantitative"}, "y": {"field": "vf", "type": "quantitative"}, "color": {"datum": "Butterworth Filtered Data"}}}
  ]
 }
]
}
